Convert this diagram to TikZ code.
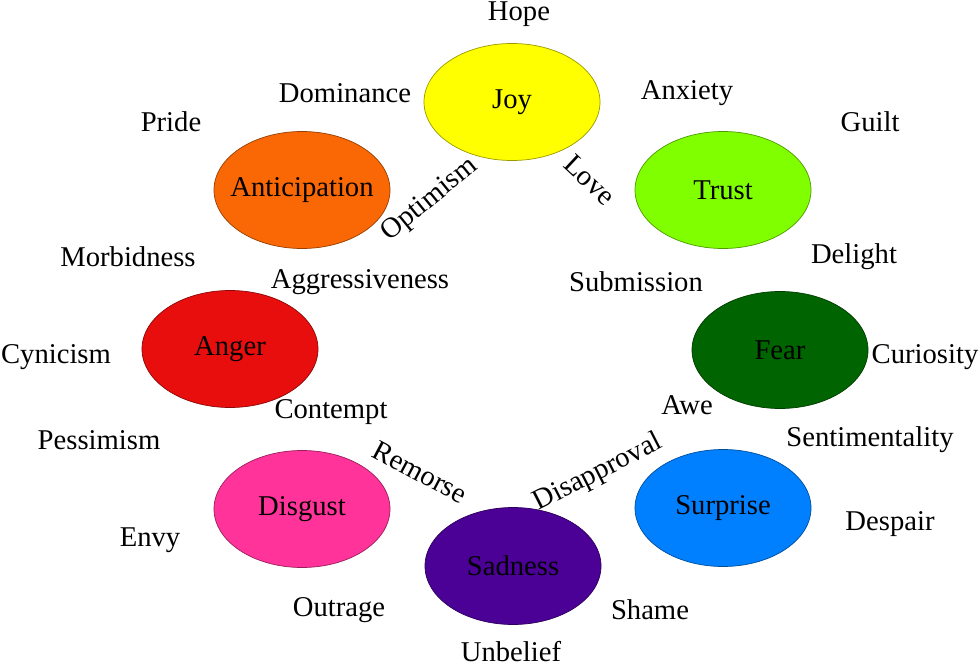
\documentclass[tikz,border=0pt]{standalone}
\usepackage{fontspec}
\setmainfont{Liberation Serif}
\usetikzlibrary{shapes.geometric}
\definecolor{joyc}{RGB}{255,255,0}
\definecolor{antc}{RGB}{250,104,5}
\definecolor{trustc}{RGB}{128,255,0}
\definecolor{angerc}{RGB}{232,14,14}
\definecolor{fearc}{RGB}{0,100,0}
\definecolor{disgc}{RGB}{255,51,153}
\definecolor{sadc}{RGB}{75,0,150}
\definecolor{surpc}{RGB}{0,128,255}
\tikzset{
  emo/.style={ellipse, minimum width=35.2mm, minimum height=23.4mm, inner sep=0pt, thin},
  lbl/.style={inner sep=0pt, font=\fontsize{16.3}{19}\selectfont}
}

\begin{document}
\begin{tikzpicture}[x=0.2mm, y=-0.2mm, every node/.style={font=\fontsize{16.3}{19}\selectfont}]
  \useasboundingbox (0,0) rectangle (980,665);
  % primary emotions
  \foreach \nm/\x/\y/\col in {Joy/512/102/joyc, Anticipation/302/190/antc, Trust/723/190/trustc,
    Anger/230/349/angerc, Fear/780/350/fearc, Disgust/302/509/disgc,
    Sadness/513/566/sadc, Surprise/723/508/surpc} {
    \node[emo, fill=\col, draw=\col!60!black] (\nm) at (\x,\y) {\makebox[0pt]{\raisebox{-0.6mm}{\nm}}};
  }
  % dyads
  \foreach \nm/\x/\y in {Hope/519/14, Dominance/345/93, Anxiety/687/93, Pride/171/122, Guilt/870/122,
    Morbidness/128/257, Aggressiveness/360/282, Submission/636/282, Delight/854/257,
    Cynicism/56/357, Curiosity/925/357, Contempt/331/412, Awe/687/405,
    Pessimism/99/440, Sentimentality/870/440, Envy/150/540, Despair/890/524,
    Outrage/339/610, Shame/650/610, Unbelief/511/652} {
    \node[lbl] (\nm) at (\x,\y) {\nm};
  }
  % tilted ones
  \node[lbl, rotate=39] (Optimism) at (430,200) {Optimism};
  \node[lbl, rotate=-43] (Love) at (590,180) {Love};
  \node[lbl, rotate=-28] (Remorse) at (420,472) {Remorse};
  \node[lbl, rotate=27] (Disapproval) at (598,473) {Disapproval};
\end{tikzpicture}
\end{document}
